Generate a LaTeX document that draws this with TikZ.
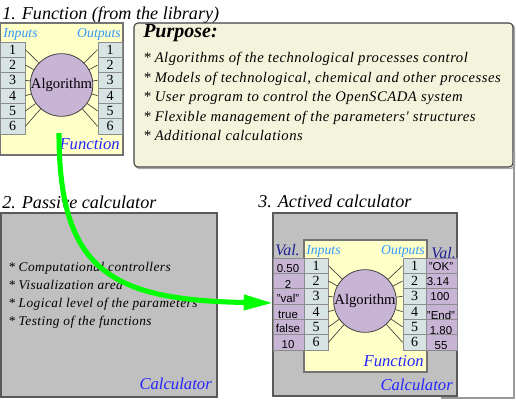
\documentclass[tikz,border=0pt]{standalone}
\usepackage{fontspec}
\setmainfont{Liberation Serif}
\setsansfont{Liberation Sans}
\newfontfamily\spacedfont[LetterSpace=3.5]{Liberation Serif}
\usetikzlibrary{fit,arrows.meta}
\definecolor{fyellow}{HTML}{FFFFC8}
\definecolor{cellc}{HTML}{D8E4E4}
\definecolor{lav}{HTML}{C8B4D4}
\definecolor{beige}{HTML}{F4F4DC}
\definecolor{gryfill}{HTML}{C0C0C0}
\definecolor{fblue}{HTML}{2424FF}
\definecolor{lblue}{HTML}{3399FF}
\definecolor{navyc}{HTML}{1E1E96}
\definecolor{arrowgreen}{HTML}{00FF00}
\begin{document}
\begin{tikzpicture}[x=0.75pt,y=-0.75pt,
  fnbox/.style={draw=black!55,line width=0.8pt,fill=fyellow,inner sep=0pt},
  calcbox/.style={draw=black!65,line width=1pt,fill=gryfill,inner sep=0pt},
  cellbox/.style={draw=black!45,line width=0.6pt,fill=cellc,inner sep=0pt},
  valbox/.style={draw=black!45,line width=0.6pt,fill=lav,inner sep=0pt},
  algo/.style={circle,draw=black!75,line width=0.6pt,fill=lav,inner sep=0pt,minimum size=47pt,font=\fontsize{11}{11}\selectfont},
  num/.style={inner sep=0pt,font=\fontsize{10.5}{10.5}\selectfont},
  valtxt/.style={inner sep=0pt,anchor=base,font=\sffamily\fontsize{8.6}{9}\selectfont},
  ttl/.style={inner sep=0pt,anchor=base west,font=\itshape\fontsize{13.6}{14}\selectfont},
  bullet/.style={inner sep=0pt,anchor=base west,font=\spacedfont\itshape\fontsize{11}{12}\selectfont},
  bulletb/.style={inner sep=0pt,anchor=base west,font=\spacedfont\itshape\fontsize{10}{11}\selectfont},
  iolbl/.style={inner sep=0pt,text=lblue,font=\itshape\fontsize{10.3}{11}\selectfont},
  bluelbl/.style={inner sep=0pt,anchor=base east,text=fblue,font=\itshape\fontsize{12.5}{13}\selectfont},
  vallbl/.style={inner sep=0pt,text=navyc,font=\itshape\fontsize{12}{13}\selectfont},
  fan/.style={draw=black!75,line width=0.5pt}
]
\useasboundingbox (0,0) rectangle (516,400);

% ---------- 1. Function
\node[ttl] (t1) at (2,19) {1. Function (from the library)};
\node[fnbox,fit={(0,23)(123,155)}] (f1) {};
\node[iolbl,anchor=base west] (f1in) at (3,37.5) {Inputs};
\node[iolbl,anchor=base east] (f1out) at (121,37.5) {Outputs};
\node[bluelbl] (f1name) at (120,149) {Function};
\foreach \i in {1,...,6}{
  \pgfmathsetmacro\ya{42+(\i-1)*15.33}
  \pgfmathsetmacro\yb{42+\i*15.33}
  \node[cellbox,fit={(0,\ya)(25,\yb)}] (ai\i) {};
  \node[num] (ain\i) at (ai\i.center) {\i};
  \node[cellbox,fit={(98,\ya)(122,\yb)}] (ao\i) {};
  \node[num] (aon\i) at (ao\i.center) {\i};
}
\node[algo] (alg1) at (61.5,85) {Algorithm};
\foreach \i in {1,...,6}{
  \draw[fan] (ai\i.east) -- (alg1);
  \draw[fan] (ao\i.west) -- (alg1);
}

% ---------- Purpose
\draw[black!35,line width=1pt,rounded corners=3pt] (135.5,24.5) rectangle (514.5,168.5);
\node[fit={(134,23)(513,167)},draw=black!75,line width=0.8pt,fill=beige,rounded corners=3pt,inner sep=0pt] (purp) {};
\node[inner sep=0pt,anchor=base west,font=\bfseries\itshape\fontsize{15}{16}\selectfont] (purpt) at (143,37) {Purpose:};
\node[bullet] (p1) at (143,62) {* Algorithms of the technological processes control};
\node[bullet] (p2) at (143,82) {* Models of technological, chemical and other processes};
\node[bullet] (p3) at (143,101) {* User program to control the OpenSCADA system};
\node[bullet] (p4) at (143,121) {* Flexible management of the parameters' structures};
\node[bullet] (p5) at (143,140) {* Additional calculations};

% ---------- 2. Passive calculator
\node[ttl] (t2) at (2,208) {2. Passive calculator};
\node[calcbox,fit={(1,213)(217,397)}] (c2) {};
\node[bulletb] (q1) at (8,271) {* Computational controllers};
\node[bulletb] (q2) at (8,289) {* Visualization area};
\node[bulletb] (q3) at (8,307) {* Logical level of the parameters};
\node[bulletb] (q4) at (8,325) {* Testing of the functions};
\node[bluelbl] (c2name) at (212,389) {Calculator};

% ---------- 3. Actived calculator
\node[ttl] (t3) at (258,207) {3. Actived calculator};
\node[calcbox,fit={(273,213)(457,396)}] (c3) {};
\node[fnbox,fit={(304,240)(427,372)}] (f3) {};
\node[iolbl,anchor=base west] (f3in) at (306,254) {Inputs};
\node[iolbl,anchor=base east] (f3out) at (425,254) {Outputs};
\node[vallbl,anchor=base west] (v3l) at (275,255) {Val.};
\node[vallbl,anchor=base east] (v3r) at (456,258) {Val.};
\node[bluelbl] (f3name) at (424,366) {Function};
\node[bluelbl] (c3name) at (453,390) {Calculator};
\foreach \i in {1,...,6}{
  \pgfmathsetmacro\ya{258+(\i-1)*15.33}
  \pgfmathsetmacro\yb{258+\i*15.33}
  \node[valbox,fit={(273,\ya)(304,\yb)}] (vl\i) {};
  \node[valbox,fit={(426,\ya)(457,\yb)}] (vr\i) {};
  \node[cellbox,fit={(304,\ya)(328,\yb)}] (bi\i) {};
  \node[num] (bin\i) at (bi\i.center) {\i};
  \node[cellbox,fit={(403,\ya)(426,\yb)}] (bo\i) {};
  \node[num] (bon\i) at (bo\i.center) {\i};
}
\node[algo] (alg3) at (365,301) {Algorithm};
\foreach \i in {1,...,6}{
  \draw[fan] (bi\i.east) -- (alg3);
  \draw[fan] (bo\i.west) -- (alg3);
}
\node[valtxt] (vl1t) at (288,272.5) {0.50};
\node[valtxt] (vl2t) at (288,288.5) {2};
\node[valtxt] (vl3t) at (288,302.5) {"val"};
\node[valtxt] (vl4t) at (288,318.5) {true};
\node[valtxt] (vl5t) at (288,332) {false};
\node[valtxt] (vl6t) at (288,348) {10};
\node[valtxt] (vr1t) at (441,270.5) {"OK"};
\node[valtxt] (vr2t) at (438,285) {3.14};
\node[valtxt] (vr3t) at (440,300) {100};
\node[valtxt] (vr4t) at (441,319) {"End"};
\node[valtxt] (vr5t) at (441,334) {1.80};
\node[valtxt] (vr6t) at (441,349) {55};

% ---------- outer frame fragment
\draw[black!40,line width=0.8pt] (514,152) -- (514,398) -- (441,398);

% ---------- green arrow
\coordinate (gstart) at (59,133);
\coordinate (gend) at (273,303);
\draw[arrowgreen,line width=3.8pt,-{Triangle[length=22pt,width=11pt]}]
  (gstart) .. controls (59,270) and (110,300) .. (gend);
\end{tikzpicture}
\end{document}
